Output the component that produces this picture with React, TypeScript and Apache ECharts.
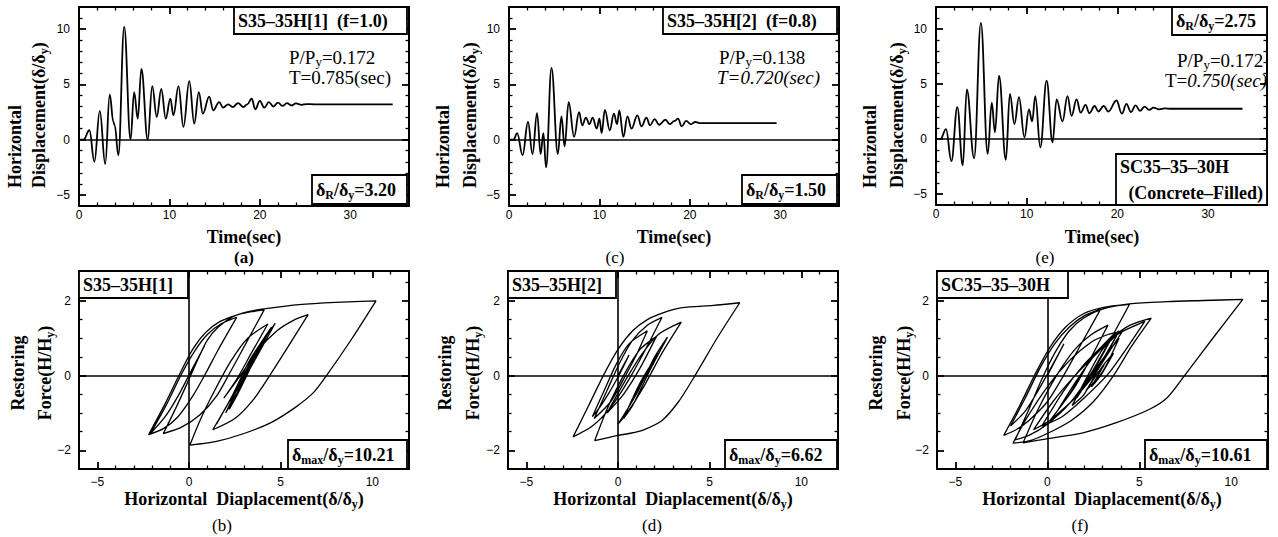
import React, { useEffect, useRef } from 'react';
import * as echarts from 'echarts';

type Pt = [number, number];

// ---- time histories: [time (sec), δ/δy] ----
const historyA: Pt[] = [
  [0, 0], [0.5, 0], [1.15, 0.85], [1.7, -2.0], [2.3, 2.6], [2.9, -2.2], [3.4, 4.1], [3.8, 1.6], [3.95, 1.3],
  [4.35, -1.4], [5.0, 10.2], [5.7, 0], [6.1, 4.3], [6.5, 1.9], [6.9, 6.4], [7.6, 0], [8.1, 4.85], [8.6, 2.05],
  [9.1, 4.6], [9.6, 1.9], [10.1, 3.7], [10.45, 2.2], [11.0, 4.85], [11.55, 1.15], [12.2, 5.3], [12.75, 1.45],
  [13.25, 4.3], [13.7, 2.35], [14.4, 3.9], [14.85, 2.65], [15.5, 3.4], [15.95, 2.9], [16.5, 3.2], [17.0, 2.95],
  [17.6, 3.3], [18.2, 2.95], [18.6, 3.2], [19.1, 3.7], [19.5, 2.75], [20.0, 3.5], [20.5, 2.9], [21.0, 3.4],
  [21.5, 3.0], [22.0, 3.35], [22.5, 3.05], [23.0, 3.3], [23.5, 3.1], [24.0, 3.28], [24.6, 3.15], [25.2, 3.22],
  [26, 3.2], [34.7, 3.2],
];
const historyC: Pt[] = [
  [0, 0], [0.5, 0], [0.9, 0.6], [1.5, -1.4], [2.1, 1.6], [2.6, -1.3], [3.1, 2.4], [3.5, -1.3], [3.8, 0.6],
  [4.1, -2.5], [4.7, 6.5], [5.4, -1.3], [5.8, 2.1], [6.15, -0.6], [6.6, 3.4], [7.2, 0.25], [7.75, 2.5],
  [8.1, 1.3], [8.5, 2.0], [8.9, 1.4], [9.25, 2.0], [9.7, 1.0], [10.0, 1.9], [10.25, 0.6], [10.6, 2.7],
  [11.15, 0.85], [11.6, 2.35], [11.95, 1.4], [12.2, 2.65], [12.65, 0.25], [13.1, 2.1], [13.55, 1.0],
  [14.2, 2.2], [14.65, 1.2], [15.2, 2.0], [15.6, 1.3], [16.1, 1.85], [16.6, 1.35], [17.3, 1.8], [17.8, 1.4],
  [18.3, 1.7], [18.7, 1.9], [19.1, 1.2], [19.6, 1.7], [20.1, 1.4], [20.6, 1.6], [21.2, 1.5], [29.6, 1.5],
];
const historyE: Pt[] = [
  [0, 0], [0.5, 0], [1.1, 0.9], [1.7, -2.0], [2.35, 2.9], [2.95, -2.4], [3.4, 4.5], [4.2, -1.75],
  [4.95, 10.55], [5.7, -1.35], [6.15, 3.3], [6.5, 0.6], [6.95, 5.75], [7.7, -1.9], [8.15, 4.1], [8.65, 1.35],
  [9.15, 3.8], [9.75, 0.15], [10.25, 2.7], [10.6, 1.6], [10.95, 3.9], [11.5, -0.75], [12.2, 5.3],
  [12.85, -0.3], [13.3, 3.6], [13.95, 1.6], [14.5, 3.9], [14.95, 2.1], [15.5, 3.6], [15.95, 2.4], [16.5, 3.1],
  [16.9, 2.35], [17.5, 3.0], [17.9, 2.5], [18.5, 3.0], [19.0, 2.5], [19.9, 3.5], [20.5, 2.3], [21.0, 3.2],
  [21.5, 2.45], [22.0, 3.05], [22.5, 2.55], [23.0, 2.95], [23.5, 2.65], [24.0, 2.85], [24.6, 2.7],
  [25.2, 2.78], [26, 2.75], [33.8, 2.75],
];

// ---- hysteresis loops: [δ/δy, H/Hy] ----
const loopB: Pt[] = [
  [0, 0], [0.85, 0.8],
  [0.2, 0.2], [-0.6, -0.55], [-1.3, -1.1], [-2.1, -1.55],
  [-1.2, -0.75], [-0.4, 0.05], [0.3, 0.65], [1.0, 1.1], [1.8, 1.4], [2.6, 1.56],
  [1.6, 0.7], [0.9, 0.05], [0.2, -0.55], [-0.6, -1.1], [-1.4, -1.42], [-2.2, -1.58],
  [-1.3, -0.75], [-0.5, 0.05], [0.2, 0.7], [0.9, 1.15], [1.7, 1.45], [2.6, 1.62], [3.4, 1.71], [4.1, 1.76],
  [3.2, 0.95], [2.2, 0.05], [1.5, -0.55], [0.6, -1.05], [-0.4, -1.38], [-1.4, -1.55],
  [-0.7, -0.85], [0.0, -0.1], [0.5, 0.45], [1.0, 0.95], [1.6, 1.3], [2.4, 1.58], [3.3, 1.72], [4.3, 1.8],
  [6.0, 1.9], [8.0, 1.96], [10.2, 2.0],
  [8.9, 1.0], [7.5, 0.0], [6.8, -0.45], [5.8, -0.85], [4.5, -1.25], [3.0, -1.55], [1.5, -1.76], [0.05, -1.86],
  [0.6, -1.2], [1.4, -0.4], [2.3, 0.4], [3.2, 1.0], [4.3, 1.38],
  [3.4, 0.6], [2.6, -0.1], [1.9, -0.6],
  [2.8, 0.0], [3.8, 0.7], [4.8, 1.2], [5.7, 1.48], [6.5, 1.63],
  [5.5, 0.85], [4.4, 0.0], [3.5, -0.65], [2.5, -1.15], [1.3, -1.45],
  [2.3, -0.6], [3.3, 0.3], [4.0, 0.9], [4.7, 1.4], [3.8, 0.6], [3.0, -0.1], [2.2, -0.7], [1.5, -1.3],
  [2.4, -0.5], [3.3, 0.4], [4.5, 1.3], [3.6, 0.5], [2.8, -0.2], [2.0, -1.0], [2.7, -0.4], [3.5, 0.4],
  [4.2, 1.0], [3.5, 0.35], [2.7, -0.45], [2.2, -0.9], [3.0, -0.1], [3.9, 0.8], [3.3, 0.2], [2.6, -0.5],
  [3.3, 0.25], [3.6, 0.5], [3.1, 0.0], [3.2, 0.0],
];
const loopD: Pt[] = [
  [0, 0], [0.6, 0.55],
  [0.1, 0.05], [-0.6, -0.55], [-1.0, -0.85], [-1.4, -1.1],
  [-0.8, -0.45], [-0.1, 0.3], [0.6, 0.85], [1.6, 1.2],
  [1.0, 0.55], [0.3, -0.1], [-0.4, -0.7], [-1.3, -1.15],
  [-0.6, -0.4], [0.1, 0.35], [0.8, 0.95], [1.6, 1.35], [2.4, 1.56],
  [1.5, 0.7], [0.6, -0.1], [-0.4, -0.85], [-1.4, -1.35], [-2.45, -1.64],
  [-1.6, -0.8], [-0.8, 0.0], [0.0, 0.7], [0.8, 1.2], [1.6, 1.5], [2.45, 1.68], [3.5, 1.82], [5.2, 1.88], [6.64, 1.95],
  [5.4, 1.0], [4.2, 0.0], [3.3, -0.7], [2.4, -1.2], [1.4, -1.45], [0.6, -1.55], [0.0, -1.6], [-1.27, -1.74],
  [-0.6, -0.9], [0.3, 0.0], [1.2, 0.7], [2.1, 1.05],
  [1.2, 0.2], [0.3, -0.5], [-0.6, -1.0],
  [0.2, -0.3], [1.2, 0.5], [2.2, 1.1], [3.45, 1.43],
  [2.4, 0.6], [1.4, -0.3], [0.5, -1.0], [0.0, -1.3],
  [1.0, -0.5], [2.0, 0.5], [2.7, 1.03],
  [1.8, 0.2], [0.8, -0.8], [0.3, -1.15],
  [1.2, -0.2], [2.2, 0.6], [1.4, -0.1], [0.8, -0.6], [1.6, 0.1], [1.9, 0.3], [1.5, 0.0],
];
const loopF: Pt[] = [
  [0, 0], [0.9, 0.85],
  [0.3, 0.3], [-0.5, -0.4], [-1.2, -0.95], [-2.0, -1.35],
  [-1.2, -0.6], [-0.4, 0.2], [0.4, 0.85], [1.2, 1.3], [2.0, 1.6], [2.9, 1.78],
  [1.9, 0.9], [1.0, 0.1], [0.0, -0.7], [-1.0, -1.2], [-1.7, -1.45], [-2.37, -1.6],
  [-1.5, -0.8], [-0.6, 0.1], [0.2, 0.8], [1.0, 1.3], [1.94, 1.65], [3.0, 1.82], [4.47, 1.91],
  [3.3, 0.85], [2.3, 0.0], [1.2, -0.75], [0.0, -1.3], [-1.0, -1.6], [-1.75, -1.72],
  [-1.0, -0.9], [-0.3, -0.1], [0.4, 0.6], [1.2, 1.2], [2.0, 1.55], [3.0, 1.78], [4.47, 1.92], [6.5, 1.98],
  [8.5, 2.01], [10.63, 2.04],
  [9.0, 1.0], [7.46, 0.0], [6.5, -0.6], [5.56, -0.9], [3.75, -1.26], [1.94, -1.53], [0.13, -1.68], [-1.32, -1.8],
  [-0.5, -0.9], [0.5, 0.0], [1.5, 0.7], [2.4, 1.1], [3.3, 1.35],
  [2.5, 0.6], [1.5, -0.3], [0.6, -0.9],
  [1.5, -0.2], [2.5, 0.5], [3.5, 1.0], [4.5, 1.35], [5.65, 1.54],
  [4.6, 0.8], [3.6, 0.0], [2.5, -0.7], [1.3, -1.2], [0.0, -1.55], [-1.0, -1.75], [-1.87, -1.81],
  [-1.2, -1.2], [0.0, -0.3], [1.2, 0.4], [2.4, 0.9], [3.3, 1.1], [4.1, 1.2],
  [2.8, 0.2], [2.0, -0.5], [1.35, -0.8],
  [2.2, 0.0], [3.0, 0.7], [3.8, 1.1],
  [2.6, 0.1], [1.5, -0.6], [0.15, -1.2],
  [1.2, -0.5], [2.2, 0.3], [3.0, 0.8], [3.9, 1.2],
  [2.8, 0.2], [1.5, -0.6], [0.3, -1.15], [-0.75, -1.45],
  [0.3, -0.7], [1.5, 0.0], [2.7, 0.6], [3.8, 1.1], [5.3, 1.45],
  [3.4, 0.1], [2.0, -0.6], [0.8, -1.1], [-0.3, -1.35],
  [0.9, -0.4], [2.0, 0.3], [3.0, 0.8], [3.6, 1.1],
  [2.6, 0.2], [1.6, -0.6],
  [2.8, 0.3], [3.9, 1.0],
  [3.0, 0.1], [2.1, -0.4],
  [3.0, 0.25], [3.6, 0.6],
  [2.9, 0.0], [2.4, -0.3], [3.1, 0.3], [2.75, 0.0],
];

// axis extents and label steps
const timeRange: Pt = [0, 36.5];
const dispRange: Pt = [-6, 12];
const loopXRange: Pt = [-6, 12];
const forceRange: Pt = [-2.5, 2.8];
const timeStep = 10;
const dispStep = 5;
const loopXStep = 5;
const forceStep = 2;

const SERIF = '"Liberation Serif", "Times New Roman", serif';
const SANS = '"Liberation Sans", Arial, sans-serif';

const rich: any = {
  b: { fontFamily: SERIF, fontWeight: 'bold', fontSize: 18, lineHeight: 22, fill: '#000', color: '#000' },
  bs: { fontFamily: SERIF, fontWeight: 'bold', fontSize: 12, lineHeight: 11, verticalAlign: 'bottom', fill: '#000', color: '#000' },
  r: { fontFamily: SERIF, fontSize: 19, lineHeight: 22, fill: '#000', color: '#000' },
  rs: { fontFamily: SERIF, fontSize: 13, lineHeight: 11, verticalAlign: 'bottom', fill: '#000', color: '#000' },
  i: { fontFamily: SERIF, fontStyle: 'italic', fontSize: 19, lineHeight: 22, fill: '#000', color: '#000' },
  p: { fontFamily: SERIF, fontSize: 17, lineHeight: 22, fill: '#000', color: '#000' },
  pb: { fontFamily: SERIF, fontWeight: 'bold', fontSize: 17, lineHeight: 22, fill: '#000', color: '#000' },
};

function txt(x: number, y: number, text: string, align = 'left', rotation = 0): any {
  return {
    type: 'text', x, y, rotation, z: 101,
    style: { text, rich, align, textAlign: align, verticalAlign: 'middle', textVerticalAlign: 'middle', fill: '#000' },
  };
}
function box(x: number, y: number, w: number, h: number): any {
  return { type: 'rect', z: 100, shape: { x, y, width: w, height: h }, style: { fill: '#fff', stroke: '#000', lineWidth: 1.8 } };
}

const grids = [
  { left: 79, top: 7, width: 330, height: 199 },
  { left: 509, top: 7, width: 330, height: 199 },
  { left: 936, top: 7, width: 331, height: 198 },
  { left: 79, top: 271, width: 330, height: 198 },
  { left: 508, top: 271, width: 330, height: 198 },
  { left: 937, top: 271, width: 331, height: 198 },
];

function axis(gridIndex: number, range: Pt, step: number, minorSplit: number, position: string, labels: boolean, margin: number): any {
  const span = range[1] - range[0];
  return {
    type: 'value', gridIndex, min: range[0], max: range[1], splitNumber: Math.round(span / step), position,
    axisLine: { show: true, onZero: false, lineStyle: { color: '#000', width: 2 } },
    axisTick: { show: true, inside: true, length: 7, lineStyle: { color: '#000', width: 1.8 } },
    minorTick: { show: true, splitNumber: minorSplit, length: 3.5, lineStyle: { color: '#000', width: 1.3 } },
    axisLabel: {
      show: labels, margin,
      fontFamily: SANS, fontSize: 12, color: '#000',
      formatter: (v: number) => {
        const k = v / step;
        if (Math.abs(k - Math.round(k)) > 1e-6) return '';
        return String(v).replace('-', '\u2212');
      },
    },
    splitLine: { show: false },
  };
}

export default function App() {
  const ref = useRef<HTMLDivElement>(null);
  useEffect(() => {
    if (!ref.current) return;
    const chart = echarts.init(ref.current, undefined, { renderer: 'svg' });
    const xAxes: any[] = [];
    const yAxes: any[] = [];
    for (let i = 0; i < 6; i++) {
      const top = i < 3;
      const xr = top ? timeRange : loopXRange;
      const yr = top ? dispRange : forceRange;
      const xs = top ? timeStep : loopXStep;
      const ys = top ? dispStep : forceStep;
      const yMinor = top ? 5 : 4;
      xAxes.push(axis(i, xr, xs, 5, 'bottom', true, top ? 3 : 7));
      xAxes.push(axis(i, xr, xs, 5, 'top', false, 0));
      yAxes.push(axis(i, yr, ys, yMinor, 'left', true, top ? 9 : 8));
      yAxes.push(axis(i, yr, ys, yMinor, 'right', false, 0));
    }
    const datasets = [historyA, historyC, historyE, loopB, loopD, loopF];
    const series = datasets.map((d, i) => {
      const top = i < 3;
      return {
        type: 'line', xAxisIndex: 2 * i, yAxisIndex: 2 * i, data: d,
        symbol: 'none', showSymbol: false, silent: true,
        smooth: top ? 0.4 : 0.25,
        smoothMonotone: top ? 'x' : undefined,
        lineStyle: { color: '#000', width: top ? 1.8 : 1.3 },
        z: 3,
        markLine: {
          silent: true, symbol: ['none', 'none'], label: { show: false },
          lineStyle: { color: '#000', width: 1.6, type: 'solid' },
          data: top ? [{ yAxis: 0 }] : [{ yAxis: 0 }, { xAxis: 0 }],
        },
      };
    });

    const g: any[] = [];
    // ---- (a)
    g.push(box(234, 7, 173, 27), txt(238, 21, '{b|S35\u201335H[1]  (f=1.0)}'));
    g.push(txt(289, 57, '{r|P/P}{rs|y}{r|=0.172}'), txt(289, 77, '{r|T=0.785(sec)}'));
    g.push(box(312, 175, 95, 29), txt(316, 190, '{b|\u03b4}{bs|R}{b|/\u03b4}{bs|y}{b|=3.20}'));
    // ---- (c)
    g.push(box(663, 7, 174, 27), txt(667, 21, '{b|S35\u201335H[2]  (f=0.8)}'));
    g.push(txt(719, 57, '{r|P/P}{rs|y}{r|=0.138}'), txt(717, 77, '{i|T=0.720(sec)}'));
    g.push(box(742, 175, 95, 29), txt(746, 190, '{b|\u03b4}{bs|R}{b|/\u03b4}{bs|y}{b|=1.50}'));
    // ---- (e)
    g.push(box(1172, 7, 95, 28), txt(1176, 21, '{b|\u03b4}{bs|R}{b|/\u03b4}{bs|y}{b|=2.75}'));
    g.push(txt(1177, 60, '{r|P/P}{rs|y}{r|=0.172}'), txt(1165, 80, '{r|T=}{i|0.750(sec)}'));
    g.push(box(1116, 154, 151, 51), txt(1120, 167, '{b|SC35\u201335\u201330H}'), txt(1263, 193, '{b|(Concrete\u2013Filled)}', 'right'));
    // ---- (b) (d) (f)
    g.push(box(79, 271, 109, 27), txt(83, 285, '{b|S35\u201335H[1]}'));
    g.push(box(288, 440, 119, 29), txt(292, 455, '{b|\u03b4}{bs|max}{b|/\u03b4}{bs|y}{b|=10.21}'));
    g.push(box(508, 271, 108, 27), txt(512, 285, '{b|S35\u201335H[2]}'));
    g.push(box(725, 440, 112, 29), txt(729, 455, '{b|\u03b4}{bs|max}{b|/\u03b4}{bs|y}{b|=6.62}'));
    g.push(box(937, 271, 131, 27), txt(941, 285, '{b|SC35\u201335\u201330H}'));
    g.push(box(1145, 440, 122, 29), txt(1149, 455, '{b|\u03b4}{bs|max}{b|/\u03b4}{bs|y}{b|=10.61}'));

    const topCols = [[15, 39], [443, 470], [870, 897]];
    const topCenters = [244, 674, 1102];
    const topLetters = [['(a)', 244, 'pb'], ['(c)', 615, 'p'], ['(e)', 1045, 'p']];
    topCols.forEach((c, i) => {
      g.push(txt(c[0], 188, '{b|Horizontal}', 'left', Math.PI / 2));
      g.push(txt(c[1], 188, '{b|Displacement(\u03b4/\u03b4}{bs|y}{b|)}', 'left', Math.PI / 2));
      g.push(txt(topCenters[i], 237, '{b|Time(sec)}', 'center'));
      const L = topLetters[i];
      g.push(txt(L[1] as number, 257, `{${L[2]}|${L[0]}}`, 'center'));
    });
    const botCols = [[18, 45], [445, 473], [876, 904]];
    const botCenters = [244, 673, 1102];
    const botLetters = [['(b)', 222], ['(d)', 652], ['(f)', 1080]];
    botCols.forEach((c, i) => {
      g.push(txt(c[0], 373, '{b|Restoring}', 'center', Math.PI / 2));
      g.push(txt(c[1], 373, '{b|Force(H/H}{bs|y}{b|)}', 'center', Math.PI / 2));
      g.push(txt(botCenters[i], 499, '{b|Horizontal  Diaplacement(\u03b4/\u03b4}{bs|y}{b|)}', 'center'));
      const L = botLetters[i];
      g.push(txt(L[1] as number, 525, `{p|${L[0]}}`, 'center'));
    });

    chart.setOption({
      animation: false,
      backgroundColor: '#fff',
      grid: grids,
      xAxis: xAxes,
      yAxis: yAxes,
      series,
      graphic: { elements: g },
    });
    return () => chart.dispose();
  }, []);
  return <div ref={ref} style={{ position: 'fixed', left: 0, top: 0, width: 1278, height: 537, background: '#fff' }} />;
}
